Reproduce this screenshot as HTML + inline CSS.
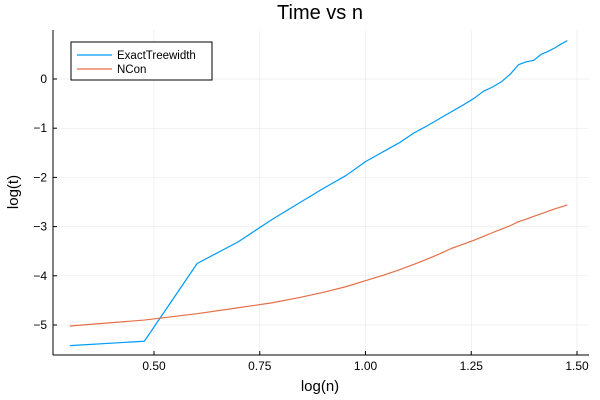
<!DOCTYPE html>
<html><head><meta charset="utf-8"><style>
html,body{margin:0;padding:0;background:#fff}
svg{display:block;font-family:"Liberation Sans","DejaVu Sans",sans-serif}
</style></head><body>
<svg id="chart" width="600" height="400" viewBox="0 0 600 400">
<rect width="600" height="400" fill="#fff"/>
<g id="grid"></g><g id="axes"></g><g id="series"></g>
<text x="320" y="19" text-anchor="middle" font-size="20">Time vs n</text>
<text x="320" y="391" text-anchor="middle" font-size="15">log(n)</text>
<text transform="translate(18,192) rotate(-90)" text-anchor="middle" font-size="15">log(t)</text>
<g>
<rect x="71" y="42" width="141" height="38" fill="#fff" stroke="#000" stroke-width="1"/>
<line x1="77" y1="55" x2="112" y2="55" stroke="#009AFA" stroke-width="1.2"/>
<text x="117" y="59" font-size="11.5">ExactTreewidth</text>
<line x1="77" y1="69" x2="112" y2="69" stroke="#E36F47" stroke-width="1.2"/>
<text x="117" y="73" font-size="11.5">NCon</text>
</g>
</svg>
<script>
const nValues = [2,3,4,5,6,7,8,9,10,11,12,13,14,15,16,17,18,19,20,21,22,23,24,25,26,27,28,29,30];
const exactTreewidth = [-5.42,-5.33,-3.75,-3.31,-2.86,-2.51,-2.21,-1.96,-1.68,-1.48,-1.3,-1.1,-0.95,-0.8,-0.66,-0.53,-0.4,-0.25,-0.16,-0.05,0.1,0.29,0.35,0.38,0.5,0.56,0.63,0.71,0.78];
const ncon = [-5.02,-4.9,-4.77,-4.65,-4.55,-4.44,-4.33,-4.22,-4.1,-3.99,-3.88,-3.77,-3.66,-3.55,-3.44,-3.36,-3.28,-3.2,-3.12,-3.05,-2.98,-2.9,-2.85,-2.79,-2.74,-2.69,-2.64,-2.6,-2.56];
const xTicks = [0.5,0.75,1.0,1.25,1.5];
const xTickLabels = ["0.50","0.75","1.00","1.25","1.50"];
const yTicks = [0,-1,-2,-3,-4,-5];
const yTickLabels = ["0","−1","−2","−3","−4","−5"];

const L=53,R=589,T=30,B=355;
const xs=v=>154+(v-0.5)*423;
const ys=v=>79-v*49.2;
const NS='http://www.w3.org/2000/svg';
function mk(tag,attrs,parent){const e=document.createElementNS(NS,tag);for(const k in attrs)e.setAttribute(k,attrs[k]);parent.appendChild(e);return e;}
const grid=document.getElementById('grid'),axes=document.getElementById('axes'),series=document.getElementById('series');
xTicks.forEach((t,i)=>{
  const g=mk('line',{x1:xs(t),x2:xs(t),y1:T,y2:B,stroke:'#000','stroke-opacity':0.1,'stroke-width':0.5},grid);
  
  
  mk('line',{x1:xs(t),x2:xs(t),y1:B,y2:B-4,stroke:'#000','stroke-width':1},axes);
  const lb=mk('text',{x:xs(t),y:B+15,'text-anchor':'middle','font-size':12},axes);
  lb.textContent=xTickLabels[i];
  
  
});
yTicks.forEach((t,i)=>{
  const g=mk('line',{x1:L,x2:R,y1:ys(t),y2:ys(t),stroke:'#000','stroke-opacity':0.1,'stroke-width':0.5},grid);
  
  
  mk('line',{x1:L,x2:L+4,y1:ys(t),y2:ys(t),stroke:'#000','stroke-width':1},axes);
  const lb=mk('text',{x:L-6,y:ys(t)+4,'text-anchor':'end','font-size':12},axes);
  lb.textContent=yTickLabels[i];
  
  
});
const xa=mk('line',{x1:L,x2:R,y1:B,y2:B,stroke:'#000','stroke-width':1},axes);


const ya=mk('line',{x1:L,x2:L,y1:T,y2:B,stroke:'#000','stroke-width':1},axes);


function line(vals,color,name){
  const pts=vals.map((v,i)=>xs(Math.log10(nValues[i])).toFixed(2)+','+ys(v).toFixed(2)).join(' ');
  const p=mk('polyline',{points:pts,fill:'none',stroke:color,'stroke-width':1.2,'stroke-linejoin':'round'},series);
  
  
}
line(exactTreewidth,'#009AFA','exacttreewidth-line');
line(ncon,'#E36F47','ncon-line');
</script>
</body></html>
